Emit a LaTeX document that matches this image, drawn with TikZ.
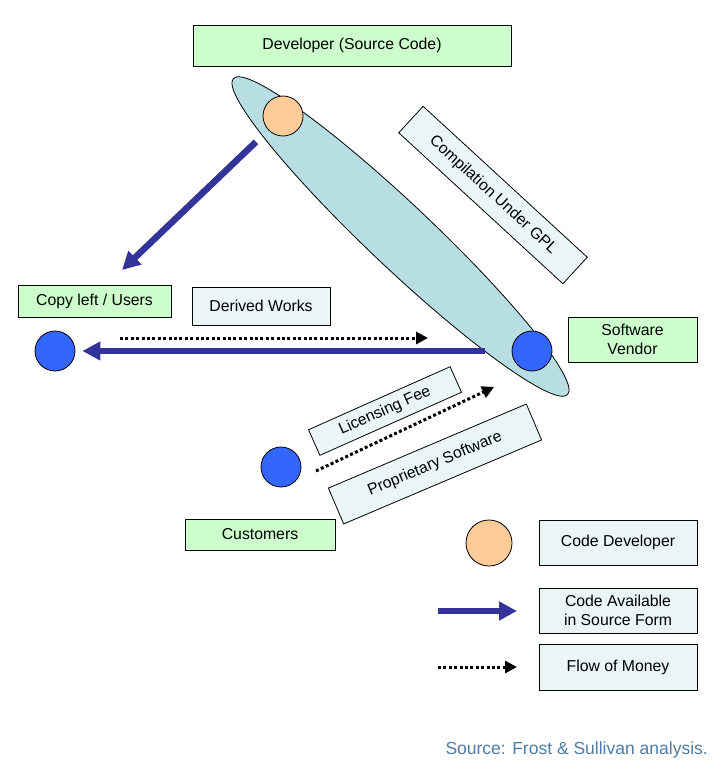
\documentclass[tikz,border=0pt]{standalone}
\usepackage{fontspec}
\setmainfont{Liberation Sans}
\usetikzlibrary{arrows.meta}
\usetikzlibrary{shapes.geometric}

\definecolor{boxgreen}{HTML}{CCFFCC}
\definecolor{boxpale}{HTML}{EAF5F5}
\definecolor{ellteal}{HTML}{B7DEE2}
\definecolor{devorange}{HTML}{FFCC99}
\definecolor{userblue}{HTML}{3366FF}
\definecolor{codeblue}{HTML}{333399}
\definecolor{srcblue}{HTML}{4F7BA8}

\tikzset{
  greenbox/.style={draw, line width=0.8pt, fill=boxgreen, inner sep=0pt, align=center},
  palebox/.style={draw, line width=0.8pt, fill=boxpale, inner sep=0pt, align=center},
  blob/.style={circle, draw, line width=0.8pt, inner sep=0pt, minimum size=40pt},
  codearrow/.style={color=codeblue, line width=6.5pt, -{Triangle[length=18pt,width=18pt]}},
  moneyarrow/.style={line width=3pt, dash pattern=on 3pt off 2.4pt, -{Triangle[length=12pt,width=12pt]}}
}

\begin{document}
\begin{tikzpicture}[x=1pt, y=-1pt, font=\fontsize{15.8pt}{19pt}\selectfont]
        \useasboundingbox (0,0) rectangle (716,762);
        % the GPL ellipse and its two ends
        \node [ellipse, draw, line width=0.8pt, fill=ellteal, inner sep=0pt,
               minimum width=460pt, minimum height=64pt, rotate=-43.4] (gpl) at (400.5,236.5) {};
        \node [blob, fill=devorange] (devc) at (283,116) {};
        \node [blob, fill=userblue] (vendc) at (532,351) {};
        \node [blob, fill=userblue] (copyc) at (55,351) {};
        \node [blob, fill=userblue] (custc) at (281,467) {};

        % labels
        \node [greenbox, minimum width=318pt, minimum height=41pt] (dev) at (352,45.5) {Developer (Source Code)};
        \node [greenbox, minimum width=153pt, minimum height=32pt] (copyl) at (94.5,301) {Copy left / Users};
        \node [palebox, minimum width=138pt, minimum height=38pt] (derived) at (261,306) {Derived Works};
        \node [greenbox, minimum width=129pt, minimum height=45pt] (vendor) at (632.5,339.5) {Software\\Vendor};
        \node [greenbox, minimum width=150pt, minimum height=31pt] (cust) at (260,534.5) {Customers};
        \node [palebox, minimum width=223pt, minimum height=36pt, rotate=-42.6] (compil) at (493,195) {Compilation Under GPL};
        \node [palebox, minimum width=155pt, minimum height=28pt, rotate=24] (licfee) at (385,411) {Licensing Fee};
        \node [palebox, minimum width=215pt, minimum height=39pt, rotate=23] (propsw) at (435,464) {Proprietary Software};

        % flows
        \coordinate (clend) at (122,270);
        \draw [codearrow, shorten <=17pt] (devc) -- (clend);
        \draw [codearrow, shorten <=27pt, shorten >=7pt] (vendc) -- (copyc);
        \coordinate (dws) at (120,338);
        \coordinate (dwe) at (428,338);
        \draw [moneyarrow] (dws) -- (dwe);
        \coordinate (lfs) at (316,471);
        \coordinate (lfe) at (494,387);
        \draw [moneyarrow] (lfs) -- (lfe);

        % legend
        \node [blob, fill=devorange, minimum size=46pt] (legc) at (489,543) {};
        \node [palebox, minimum width=158pt, minimum height=45pt] (legdev) at (618,542.5) {Code Developer};
        \node [palebox, minimum width=158pt, minimum height=45pt] (legcode) at (618,610.5) {Code Available\\in Source Form};
        \node [palebox, minimum width=158pt, minimum height=46pt] (legmoney) at (618,667) {Flow of Money};
        \coordinate (lca) at (438,611);
        \coordinate (lcb) at (517,611);
        \draw [codearrow] (lca) -- (lcb);
        \coordinate (lma) at (438,667);
        \coordinate (lmb) at (517,667);
        \draw [moneyarrow] (lma) -- (lmb);

        \node [anchor=base east, text=srcblue, inner sep=0pt, font=\fontsize{17.5pt}{20pt}\selectfont] (src) at (708,754) {Source: Frost \& Sullivan analysis.};
\end{tikzpicture}
\end{document}
